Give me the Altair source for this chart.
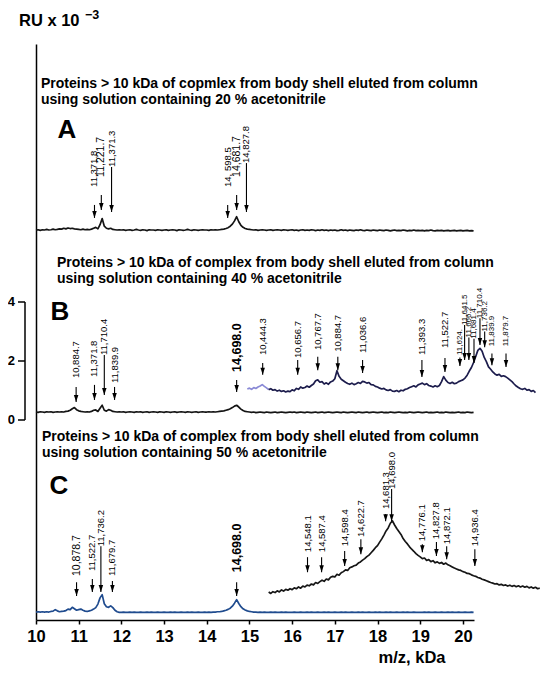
import altair as alt
import pandas as pd

FONT = "Liberation Sans"
STEP = 0.05

# ---------------- spectra (RU x 10^-3, each relative to its own panel zero) -------------
MAIN_START = 10.0
A_SIGNAL = [
    0.27, 0.28, 0.26, 0.28, 0.27, 0.29, 0.27, 0.28, 0.30, 0.28, 0.29, 0.31, 0.30, 0.33, 0.31, 0.34, 0.32, 0.33, 0.31, 0.30,
    0.29, 0.28, 0.30, 0.28, 0.29, 0.28, 0.30, 0.33, 0.36, 0.31, 0.45, 0.66, 0.40, 0.33, 0.31, 0.33, 0.29, 0.28, 0.27, 0.28,
    0.27, 0.28, 0.26, 0.27, 0.28, 0.26, 0.27, 0.29, 0.27, 0.26, 0.28, 0.27, 0.25, 0.28, 0.27, 0.27, 0.26, 0.28, 0.27, 0.26,
    0.27, 0.28, 0.26, 0.27, 0.28, 0.27, 0.25, 0.28, 0.27, 0.26, 0.27, 0.29, 0.27, 0.26, 0.28, 0.27, 0.26, 0.27, 0.28, 0.27,
    0.27, 0.26, 0.28, 0.27, 0.28, 0.27, 0.28, 0.29, 0.30, 0.32, 0.35, 0.40, 0.47, 0.58, 0.72, 0.55, 0.43, 0.36, 0.32, 0.30,
    0.29, 0.28, 0.27, 0.28, 0.26, 0.27, 0.28, 0.27, 0.26, 0.27, 0.28, 0.26, 0.27, 0.28, 0.27, 0.26, 0.28, 0.27, 0.26, 0.27,
    0.28, 0.26, 0.27, 0.25, 0.27, 0.28, 0.26, 0.27, 0.26, 0.28, 0.27, 0.25, 0.27, 0.26, 0.28, 0.26, 0.27, 0.25, 0.27, 0.26,
    0.27, 0.25, 0.26, 0.28, 0.26, 0.27, 0.25, 0.27, 0.26, 0.25, 0.27, 0.26, 0.28, 0.26, 0.25, 0.27, 0.26, 0.25, 0.27, 0.26,
    0.25, 0.27, 0.26, 0.25, 0.27, 0.26, 0.24, 0.26, 0.27, 0.25, 0.26, 0.25, 0.27, 0.26, 0.24, 0.26, 0.25, 0.27, 0.25, 0.26,
    0.25, 0.26, 0.24, 0.26, 0.25, 0.27, 0.25, 0.24, 0.26, 0.25, 0.26, 0.24, 0.25, 0.26, 0.24, 0.25, 0.26, 0.24, 0.25, 0.26,
    0.24, 0.25, 0.26, 0.24, 0.25, 0.24,
]
B_SIGNAL = [
    0.27, 0.26, 0.28, 0.27, 0.26, 0.28, 0.27, 0.28, 0.26, 0.27, 0.28, 0.27, 0.28, 0.27, 0.29, 0.30, 0.33, 0.38, 0.42, 0.35,
    0.31, 0.29, 0.28, 0.27, 0.28, 0.27, 0.29, 0.33, 0.34, 0.29, 0.40, 0.50, 0.33, 0.30, 0.35, 0.33, 0.29, 0.28, 0.27, 0.28,
    0.27, 0.28, 0.26, 0.27, 0.28, 0.27, 0.26, 0.28, 0.27, 0.28, 0.26, 0.27, 0.28, 0.26, 0.27, 0.28, 0.27, 0.26, 0.28, 0.27,
    0.26, 0.28, 0.27, 0.26, 0.27, 0.28, 0.26, 0.27, 0.28, 0.27, 0.26, 0.28, 0.27, 0.26, 0.27, 0.28, 0.26, 0.27, 0.28, 0.27,
    0.27, 0.28, 0.27, 0.28, 0.27, 0.28, 0.29, 0.30, 0.31, 0.33, 0.35, 0.38, 0.42, 0.47, 0.50, 0.44, 0.37, 0.32, 0.29, 0.28,
    0.27, 0.26, 0.27, 0.25, 0.26, 0.27, 0.26, 0.25, 0.27, 0.26, 0.25, 0.26, 0.27, 0.25, 0.26, 0.27, 0.26, 0.25, 0.26, 0.27,
    0.26, 0.27, 0.25, 0.26, 0.27, 0.26, 0.25, 0.27, 0.26, 0.25, 0.26, 0.27, 0.25, 0.26, 0.27, 0.25, 0.26, 0.27, 0.26, 0.25,
    0.26, 0.27, 0.26, 0.25, 0.27, 0.26, 0.25, 0.26, 0.27, 0.26, 0.25, 0.27, 0.26, 0.25, 0.26, 0.27, 0.25, 0.26, 0.27, 0.26,
    0.25, 0.26, 0.27, 0.25, 0.26, 0.25, 0.27, 0.26, 0.25, 0.26, 0.27, 0.26, 0.25, 0.26, 0.25, 0.27, 0.26, 0.25, 0.26, 0.27,
    0.26, 0.25, 0.26, 0.27, 0.25, 0.26, 0.25, 0.26, 0.27, 0.25, 0.26, 0.25, 0.27, 0.26, 0.25, 0.26, 0.25, 0.26, 0.27, 0.25,
    0.26, 0.25, 0.27, 0.26, 0.25, 0.26,
]
C_SIGNAL = [
    0.27, 0.28, 0.27, 0.28, 0.27, 0.28, 0.27, 0.29, 0.30, 0.35, 0.31, 0.28, 0.29, 0.30, 0.32, 0.37, 0.35, 0.43, 0.38, 0.33,
    0.35, 0.37, 0.33, 0.30, 0.29, 0.31, 0.33, 0.37, 0.42, 0.54, 0.75, 0.86, 0.55, 0.45, 0.43, 0.48, 0.42, 0.33, 0.28, 0.26,
    0.26, 0.27, 0.26, 0.26, 0.27, 0.26, 0.27, 0.26, 0.26, 0.27, 0.26, 0.26, 0.27, 0.26, 0.27, 0.26, 0.26, 0.27, 0.26, 0.26,
    0.27, 0.26, 0.26, 0.27, 0.26, 0.27, 0.26, 0.26, 0.27, 0.26, 0.26, 0.27, 0.26, 0.27, 0.26, 0.26, 0.27, 0.26, 0.26, 0.27,
    0.26, 0.27, 0.26, 0.27, 0.27, 0.28, 0.28, 0.29, 0.31, 0.33, 0.36, 0.40, 0.47, 0.57, 0.69, 0.56, 0.45, 0.38, 0.34, 0.31,
    0.29, 0.28, 0.27, 0.27, 0.26, 0.27, 0.26, 0.27, 0.26, 0.26, 0.27, 0.26, 0.27, 0.26, 0.26, 0.27, 0.26, 0.27, 0.26, 0.26,
    0.26, 0.27, 0.26, 0.26, 0.27, 0.26, 0.26, 0.27, 0.26, 0.27, 0.26, 0.26, 0.27, 0.26, 0.26, 0.27, 0.26, 0.27, 0.26, 0.26,
    0.27, 0.26, 0.26, 0.27, 0.26, 0.27, 0.26, 0.26, 0.27, 0.26, 0.26, 0.27, 0.26, 0.27, 0.26, 0.26, 0.27, 0.26, 0.26, 0.27,
    0.26, 0.27, 0.26, 0.26, 0.27, 0.26, 0.27, 0.26, 0.26, 0.27, 0.26, 0.26, 0.27, 0.26, 0.27, 0.26, 0.26, 0.27, 0.26, 0.26,
    0.26, 0.26, 0.27, 0.26, 0.27, 0.26, 0.26, 0.27, 0.26, 0.26, 0.27, 0.26, 0.26, 0.27, 0.26, 0.27, 0.26, 0.26, 0.27, 0.26,
    0.26, 0.27, 0.26, 0.26, 0.27, 0.26,
]

# zoomed inset traces drawn on the right of panels B and C
B_INSET_START = 14.95
B_INSET = [
    1.05, 1.08, 1.04, 1.10, 1.07, 1.12, 1.15, 1.20, 1.14, 1.09, 1.03,
    1.06, 1.01, 1.03, 0.98, 1.01, 0.97, 0.99, 0.95, 0.98, 0.96,
    1.02, 0.99, 1.07, 1.04, 1.12, 1.08, 1.10, 1.15, 1.11, 1.17,
    1.22, 1.33, 1.36, 1.28, 1.30, 1.22, 1.26, 1.21, 1.29, 1.32,
    1.40, 1.67, 1.48, 1.38, 1.33, 1.28, 1.24, 1.21, 1.25, 1.20,
    1.23, 1.27, 1.24, 1.31, 1.29, 1.25, 1.27, 1.20, 1.19, 1.14,
    1.12, 1.08, 1.05, 1.07, 1.02, 1.00, 1.03, 0.98, 0.97, 1.00,
    0.96, 1.01, 0.99, 1.04, 1.06, 1.10, 1.13, 1.16, 1.12, 1.19,
    1.22, 1.25, 1.20, 1.23, 1.17, 1.15, 1.12, 1.16, 1.13, 1.17,
    1.30, 1.47, 1.35, 1.27, 1.24, 1.28, 1.23, 1.25, 1.30, 1.33,
    1.36, 1.42, 1.52, 1.66, 1.78, 1.95, 2.15, 2.36, 2.43, 2.33,
    2.12, 1.98, 1.80, 1.72, 1.63, 1.56, 1.52, 1.55, 1.48, 1.50,
    1.47, 1.42, 1.36, 1.30, 1.22, 1.15, 1.10, 1.06, 1.04, 1.07,
    1.01, 1.03, 0.97, 1.00, 0.93,
]
B_INSET_LEAD_POINTS = 11  # first part of the inset drawn in a lighter violet

C_INSET_START = 15.45
C_INSET = [
    0.95, 0.90, 0.96, 0.93, 0.99, 0.95, 1.02, 0.98, 1.04, 1.01, 1.06,
    1.03, 1.09, 1.06, 1.12, 1.08, 1.15, 1.12, 1.18, 1.16, 1.22,
    1.19, 1.27, 1.24, 1.30, 1.35, 1.31, 1.39, 1.36, 1.45, 1.48,
    1.46, 1.55, 1.52, 1.60, 1.64, 1.70, 1.68, 1.77, 1.80, 1.84,
    1.86, 1.93, 1.97, 2.03, 2.08, 2.15, 2.20, 2.28, 2.36, 2.45,
    2.52, 2.64, 2.75, 2.88, 3.02, 3.12, 3.28, 3.36, 3.22, 3.10,
    3.00, 2.90, 2.76, 2.66, 2.58, 2.48, 2.40, 2.33, 2.25, 2.19,
    2.14, 2.08, 2.10, 2.02, 2.05, 1.98, 2.01, 1.94, 1.97, 1.92,
    1.95, 1.89, 1.93, 1.87, 1.84, 1.80, 1.76, 1.73, 1.70, 1.68,
    1.64, 1.62, 1.58, 1.57, 1.53, 1.50, 1.48, 1.44, 1.42, 1.38,
    1.36, 1.33, 1.30, 1.27, 1.25, 1.22, 1.23, 1.19, 1.21, 1.17,
    1.19, 1.15, 1.18, 1.14, 1.17, 1.13, 1.16, 1.12, 1.15, 1.11,
    1.14, 1.09, 1.12, 1.08, 1.11, 1.06, 1.08,
]

# ---------------- peak annotations (x in kDa scale, heights in panel RU) -------------
A_LABELS = ["11,371.8", "11,221.7", "11,371.3", "14, 598.5", "14,681.7", "14,827.8"]
A_X = [11.37, 11.53, 11.77, 14.49, 14.70, 14.93]
A_TIP = [0.68, 0.95, 0.88, 0.68, 0.95, 0.88]
A_TAIL = [1.12, 1.46, 2.41, 1.12, 1.46, 2.54]
A_TEXT = [1.73, 2.07, 2.41, 1.73, 2.07, 2.54]
A_KIND = ["s", "m", "s", "s", "m", "s"]

B_LABELS = ["10,884.7", "11,371.8", "11,710.4", "11,839.9", "14,698.0", "10,444.3",
            "10,656.7", "10,767.7", "10,884.7", "11,036.6", "11,393.3", "11,522.7",
            "11,624.", "11,641.5", "11,666.2", "11,681.4", "11,710.4", "11,736.2",
            "11,839.9", "11,879.7"]
B_X = [10.94, 11.37, 11.60, 11.84, 14.70, 15.31, 16.13, 16.60, 17.07, 17.65, 19.04, 19.58,
       19.93, 20.04, 20.14, 20.26, 20.40, 20.51, 20.68, 21.01]
B_TIP = [0.61, 0.68, 0.85, 0.68, 0.95, 1.53, 1.53, 1.69, 1.69, 1.59, 1.46, 1.63,
         1.83, 2.03, 2.03, 1.93, 2.54, 2.47, 1.86, 1.80]
B_TAIL = [1.12, 1.19, 2.20, 1.12, 1.36, 1.93, 2.03, 2.14, 2.14, 2.03, 2.03, 2.10,
          2.12, 3.22, 2.80, 2.75, 3.45, 3.00, 2.25, 2.25]
B_TEXT = [1.42, 1.46, 2.20, 1.25, 1.63, 2.20, 2.10, 2.37, 2.31, 2.27, 2.20, 2.44,
          2.20, 3.22, 2.80, 2.75, 3.45, 3.00, 2.50, 2.50]
B_KIND = ["s", "s", "s", "s", "l", "s", "s", "s", "s", "s", "s", "s",
          "xs", "xs", "xs", "xs", "xs", "xs", "xs", "xs"]

C_LABELS = ["10,878.7", "11,522.7", "11,736.2", "11,679.7", "14,698.0",
            "14,548.1", "14,587.4", "14,598.4", "14,622.7", "14,681.3", "14,698.0",
            "14,776.1", "14,827.8", "14,872.1", "14,936.4"]
C_X = [10.95, 11.32, 11.52, 11.79, 14.70, 16.36, 16.69, 17.23, 17.61, 18.19, 18.33,
       19.05, 19.38, 19.62, 20.28]
C_TIP = [0.81, 0.95, 0.95, 0.95, 0.81, 1.62, 1.62, 1.83, 2.23, 3.35, 3.35, 2.30, 2.17, 2.06, 1.83]
C_TAIL = [1.28, 1.39, 2.50, 1.32, 1.28, 2.13, 2.13, 2.34, 2.74, 3.59, 4.44, 2.57, 2.64, 2.50, 2.40]
C_TEXT = [1.49, 1.66, 2.50, 1.49, 1.62, 2.30, 2.30, 2.50, 2.81, 3.76, 4.44, 2.67, 2.74, 2.57, 2.50]
C_KIND = ["m", "s", "s", "s", "l", "s", "s", "s", "s", "s", "s", "s", "s", "s", "s"]

TITLES_A = ["Proteins > 10 kDa of copmlex from body shell eluted from column",
            "using solution containing 20 % acetonitrile"]
TITLES_B = ["Proteins > 10 kDa of complex from body shell eluted from column",
            "using solution containing 40 % acetonitrile"]
TITLES_C = ["Proteins > 10 kDa of complex from body shell eluted from column",
            "using solution containing 50 % acetonitrile"]
X_TICKS = [10, 11, 12, 13, 14, 15, 16, 17, 18, 19, 20]
Y_TICKS = [0, 2, 4]

# ---------------- layout / style -------------
PANEL_ZERO = {"A": 6.17, "B": 0.0, "C": -6.78}
FONT_KIND = {"xs": (8, "normal"), "s": (9.5, "normal"), "m": (10.5, "normal"), "l": (12.5, "bold")}
SERIES = ["A", "B", "B_lead", "B_inset", "C", "C_inset"]
COLORS = ["#141414", "#141414", "#8a8ad6", "#1c1c4c", "#1f4b8e", "#161616"]
WIDTHS = [1.7, 1.7, 1.2, 1.2, 1.6, 1.1]

W, H = 438, 576
x_scale = alt.Scale(domain=[10, 20.26], nice=False, zero=False)
y_scale = alt.Scale(domain=[-6.78, 12.746], nice=False, zero=False)
x_axis = alt.Axis(values=X_TICKS, format="d", title=None, grid=False, labelFont=FONT,
                  labelFontSize=16.5, labelFontWeight="bold", labelColor="black",
                  tickSize=4, tickWidth=1.5, tickColor="black", domainColor="black",
                  domainWidth=1.5, labelPadding=4, labelOverlap=False, labelFlush=False)
y_axis = alt.Axis(title=None, grid=False, ticks=False, labels=False,
                  domainColor="black", domainWidth=1.5)


def X(field):
    return alt.X(field, scale=x_scale, axis=x_axis)


def Y(field):
    return alt.Y(field, scale=y_scale, axis=y_axis)


def frame(start, values, zero, name):
    return pd.DataFrame({
        "x": [round(start + STEP * i, 2) for i in range(len(values))],
        "y": [round(v + zero, 3) for v in values],
        "series": name,
    })


lead_end = B_INSET_LEAD_POINTS
traces = pd.concat([
    frame(MAIN_START, A_SIGNAL, PANEL_ZERO["A"], "A"),
    frame(MAIN_START, B_SIGNAL, PANEL_ZERO["B"], "B"),
    frame(B_INSET_START, B_INSET[:lead_end], PANEL_ZERO["B"], "B_lead"),
    frame(round(B_INSET_START + STEP * (lead_end - 1), 2), B_INSET[lead_end - 1:], PANEL_ZERO["B"], "B_inset"),
    frame(MAIN_START, C_SIGNAL, PANEL_ZERO["C"], "C"),
    frame(C_INSET_START, C_INSET, PANEL_ZERO["C"], "C_inset"),
], ignore_index=True)

rows = []
for panel, labels, xs, tips, tails, texts, kinds in [
    ("A", A_LABELS, A_X, A_TIP, A_TAIL, A_TEXT, A_KIND),
    ("B", B_LABELS, B_X, B_TIP, B_TAIL, B_TEXT, B_KIND),
    ("C", C_LABELS, C_X, C_TIP, C_TAIL, C_TEXT, C_KIND),
]:
    z = PANEL_ZERO[panel]
    for lab, x, tp, tl, tx, k in zip(labels, xs, tips, tails, texts, kinds):
        rows.append({"label": lab, "x": x, "tip": tp + z, "tail": tl + z, "ty": tx + z, "kind": k})
ann = pd.DataFrame(rows)

lines = alt.Chart(traces).mark_line(clip=False, strokeJoin="round").encode(
    x=X("x:Q"), y=Y("y:Q"),
    color=alt.Color("series:N", scale=alt.Scale(domain=SERIES, range=COLORS), legend=None),
    strokeWidth=alt.StrokeWidth("series:N", scale=alt.Scale(domain=SERIES, range=WIDTHS), legend=None),
)

shafts = alt.Chart(ann).mark_rule(color="black", strokeWidth=1.1, clip=False).encode(
    x=X("x:Q"), y=Y("tip:Q"), y2="tail:Q")
heads = alt.Chart(ann).mark_point(shape="M-0.32,-1L0.32,-1L0,0Z", size=196, filled=True,
                                  color="black", opacity=1, strokeWidth=0, clip=False).encode(
    x=X("x:Q"), y=Y("tip:Q"))

text_layers = []
for kind, (fs, fw) in FONT_KIND.items():
    sub = ann[ann["kind"] == kind]
    text_layers.append(
        alt.Chart(sub).mark_text(angle=270, align="left", baseline="middle", font=FONT,
                                 fontSize=fs, fontWeight=fw, color="black", clip=False).encode(
            x=X("x:Q"), y=Y("ty:Q"), text="label:N"))

# small RU scale at far left
scale_df = pd.DataFrame({"lo": [min(Y_TICKS)], "hi": [max(Y_TICKS)]})
scale_line = alt.Chart(scale_df).mark_rule(color="black", strokeWidth=1.5).encode(
    x=alt.value(-11), y=Y("lo:Q"), y2="hi:Q")
ticks_df = pd.DataFrame({"v": Y_TICKS})
scale_ticks = alt.Chart(ticks_df).mark_rule(color="black", strokeWidth=1.5).encode(
    x=alt.value(-18), x2=alt.value(-11), y=Y("v:Q"))
scale_labels = alt.Chart(ticks_df).mark_text(align="right", baseline="middle", font=FONT,
                                             fontSize=13, fontWeight="bold", color="black").encode(
    x=alt.value(-21), y=Y("v:Q"), text="v:N")


def label(text, px, py, size, weight="bold", align="left"):
    return alt.Chart(pd.DataFrame({"t": [text]})).mark_text(
        align=align, baseline="middle", font=FONT, fontSize=size, fontWeight=weight,
        color="black").encode(text="t:N", x=alt.value(px), y=alt.value(py))


deco = [
    label("RU x 10", -17, -23, 16.5),
    label("\u22123", 49, -29, 12.5),
    label(TITLES_A[0], 5, 40, 14), label(TITLES_A[1], 5, 56, 14),
    label(TITLES_B[0], 21, 219, 14), label(TITLES_B[1], 21, 235, 14),
    label(TITLES_C[0], 6, 393, 14), label(TITLES_C[1], 6, 409, 14),
    label("A", 31, 86, 26, align="center"),
    label("B", 24, 268, 26, align="center"),
    label("C", 23, 442, 26, align="center"),
    label("m/z, kDa", 376, 614, 16.5, align="center"),
]

chart = alt.layer(
    lines, shafts, heads, *text_layers, scale_line, scale_ticks, scale_labels, *deco
).properties(
    width=W, height=H,
    autosize=alt.AutoSizeParams(type="none"),
    padding={"left": 28, "top": 36, "right": 68, "bottom": 48},
).configure_view(stroke=None)

chart.save("out.html", embed_options={"renderer": "svg", "actions": False})
